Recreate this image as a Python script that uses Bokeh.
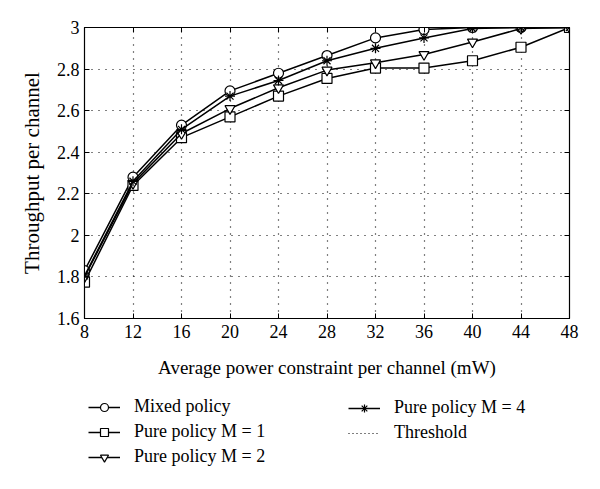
from bokeh.plotting import figure
from bokeh.models import Legend, LegendItem, LinearAxis, FixedTicker, Range1d
from bokeh.layouts import column
from bokeh.embed import file_html
from bokeh.resources import INLINE

x = [8, 12, 16, 20, 24, 28, 32, 36, 40, 44, 48]
mixed = [1.83, 2.28, 2.53, 2.695, 2.78, 2.865, 2.95, 2.99, 3.0, 3.0, 3.0]
pure_m1 = [1.775, 2.24, 2.47, 2.57, 2.67, 2.755, 2.805, 2.805, 2.84, 2.905, 3.0]
pure_m2 = [1.80, 2.25, 2.49, 2.61, 2.71, 2.795, 2.83, 2.87, 2.93, 2.995, 3.0]
pure_m4 = [1.805, 2.26, 2.51, 2.67, 2.745, 2.84, 2.90, 2.95, 2.995, 3.0, 3.0]
threshold_x = [8, 48]
threshold_y = [3.0, 3.0]
xticks = [8, 12, 16, 20, 24, 28, 32, 36, 40, 44, 48]
yticks = [1.6, 1.8, 2.0, 2.2, 2.4, 2.6, 2.8, 3.0]
ytick_labels = ["1.6", "1.8", "2", "2.2", "2.4", "2.6", "2.8", "3"]

FONT = "Liberation Serif"

p = figure(width=584, height=380, output_backend="svg", toolbar_location=None,
           x_range=Range1d(8, 48), y_range=Range1d(1.6, 3.0),
           min_border_left=84, min_border_right=15, min_border_top=27,
           min_border_bottom=62)
p.background_fill_color = "white"
p.border_fill_color = "white"
p.outline_line_color = "black"
p.outline_line_width = 1.2

for ax, ticks in ((p.xaxis[0], xticks), (p.yaxis[0], yticks)):
    ax.ticker = FixedTicker(ticks=ticks)
    ax.major_tick_in = 5
    ax.major_tick_out = 0
    ax.minor_tick_line_color = None
    ax.axis_line_color = "black"
    ax.major_label_text_font = FONT
    ax.major_label_text_font_size = "18px"
    ax.major_label_text_color = "black"
    ax.axis_label_text_font = FONT
    ax.axis_label_text_font_style = "normal"
    ax.axis_label_text_color = "black"

p.xaxis[0].axis_label_text_font_size = "19px"
p.yaxis[0].axis_label_text_font_size = "21px"
p.yaxis[0].major_label_overrides = {v: s for v, s in zip(yticks, ytick_labels)}
p.xaxis[0].axis_label = "Average power constraint per channel (mW)"
p.yaxis[0].axis_label = "Throughput per channel"
p.xaxis[0].axis_label_standoff = 16
p.yaxis[0].axis_label_standoff = 10
p.xaxis[0].major_label_standoff = 6

top = LinearAxis(ticker=FixedTicker(ticks=xticks), major_tick_in=5, major_tick_out=0,
                 major_label_overrides={t: "" for t in xticks},
                 major_label_standoff=0, minor_tick_line_color=None)
right = LinearAxis(ticker=FixedTicker(ticks=yticks), major_tick_in=5, major_tick_out=0,
                   major_label_overrides={t: "" for t in yticks},
                   major_label_standoff=0, minor_tick_line_color=None)
p.add_layout(top, "above")
p.add_layout(right, "right")

p.xgrid.ticker = FixedTicker(ticks=xticks)
p.ygrid.ticker = FixedTicker(ticks=yticks)
for g in (p.xgrid[0], p.ygrid[0]):
    g.grid_line_color = "black"
    g.grid_line_dash = "1 6"
    g.grid_line_width = 1.2

lw = 1.5
ms = 10
specs = [
    ("Mixed policy", mixed, "circle"),
    ("Pure policy M = 1", pure_m1, "square"),
    ("Pure policy M = 2", pure_m2, "inverted_triangle"),
    ("Pure policy M = 4", pure_m4, "asterisk"),
]

# legend panel: a second figure whose frame holds the legends
q = figure(width=584, height=93, output_backend="svg", toolbar_location=None,
           x_range=Range1d(100, 101), y_range=Range1d(100, 101),
           min_border_left=0, min_border_right=0, min_border_top=0,
           min_border_bottom=0)
q.axis.visible = False
q.grid.visible = False
q.outline_line_color = None
q.background_fill_color = "white"
q.border_fill_color = "white"

renderers = {}
for label, ys, marker in specs:
    fill = "white" if marker != "asterisk" else None
    p.line(x, ys, line_color="black", line_width=lw)
    p.scatter(x, ys, marker=marker, size=ms, line_color="black",
              fill_color=fill, line_width=1.2)
    l = q.line(x, ys, line_color="black", line_width=lw)
    s = q.scatter(x, ys, marker=marker, size=8, line_color="black",
                  fill_color=fill, line_width=1.2)
    renderers[label] = [l, s]

p.line(threshold_x, threshold_y, line_color="black", line_dash="1 3", line_width=1.2)
renderers["Threshold"] = [q.line(threshold_x, threshold_y, line_color="black",
                                 line_dash="1 3", line_width=1.2)]

def mk_legend(labels, loc):
    its = [LegendItem(label=lab, renderers=renderers[lab]) for lab in labels]
    lg = Legend(items=its, location=loc, orientation="vertical")
    lg.label_text_font = FONT
    lg.label_text_font_size = "18px"
    lg.label_text_color = "black"
    lg.glyph_width = 32
    lg.glyph_height = 20
    lg.label_height = 20
    lg.spacing = 4
    lg.padding = 0
    lg.margin = 0
    lg.label_standoff = 14
    lg.border_line_color = None
    lg.background_fill_alpha = 0
    return lg

q.add_layout(mk_legend(["Mixed policy", "Pure policy M = 1", "Pure policy M = 2"], (4, 6)))
q.add_layout(mk_legend(["Pure policy M = 4", "Threshold"], (264, 30)))

layout = column(p, q, spacing=0)
open("out.html", "w").write(file_html(layout, INLINE))
